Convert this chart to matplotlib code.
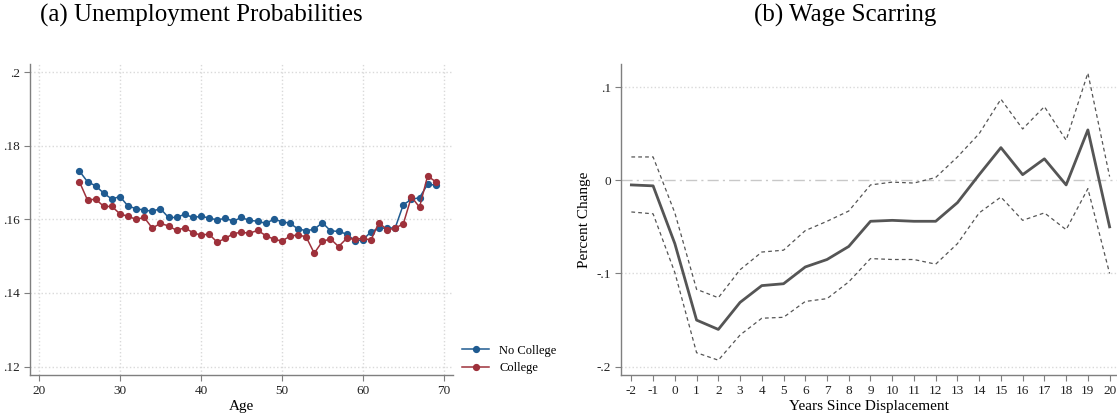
import numpy as np
import matplotlib
matplotlib.use("Agg")
import matplotlib.pyplot as plt

plt.rcParams['font.family'] = ['Liberation Serif', 'DejaVu Serif']
plt.rcParams['axes.unicode_minus'] = False

# unemployment probability by age
ages = np.arange(25, 70)
no_college = [0.1731, 0.1702, 0.1691, 0.1671, 0.1655, 0.1662, 0.1636, 0.1629, 0.1625, 0.1622,
              0.1629, 0.1605, 0.1605, 0.1614, 0.1605, 0.1608, 0.1604, 0.1598, 0.1603, 0.1595,
              0.1605, 0.1597, 0.1595, 0.1589, 0.1600, 0.1594, 0.1589, 0.1574, 0.1569, 0.1573,
              0.1591, 0.1569, 0.1567, 0.1560, 0.1542, 0.1544, 0.1566, 0.1576, 0.1576, 0.1577,
              0.1640, 0.1654, 0.1659, 0.1695, 0.1693]
college = [0.1702, 0.1652, 0.1655, 0.1635, 0.1635, 0.1615, 0.1608, 0.1600, 0.1605, 0.1576,
           0.1589, 0.1582, 0.1570, 0.1577, 0.1564, 0.1557, 0.1560, 0.1538, 0.1548, 0.1561,
           0.1565, 0.1562, 0.1570, 0.1556, 0.1546, 0.1541, 0.1554, 0.1558, 0.1552, 0.1508,
           0.1540, 0.1547, 0.1526, 0.1548, 0.1546, 0.1548, 0.1544, 0.1591, 0.1571, 0.1576,
           0.1588, 0.1661, 0.1633, 0.1718, 0.1702]
age_ticks = [20, 30, 40, 50, 60, 70]
prob_ticks = [0.12, 0.14, 0.16, 0.18, 0.20]
prob_labels = ['.12', '.14', '.16', '.18', '.2']

# wage scarring estimates with 95% bands
years = np.arange(-2, 21)
wage = [-0.005, -0.006, -0.068, -0.150, -0.160, -0.131, -0.113, -0.111, -0.093, -0.085,
        -0.071, -0.044, -0.043, -0.044, -0.044, -0.024, 0.006, 0.035, 0.006, 0.023,
        -0.005, 0.054, -0.050]
wage_hi = [0.025, 0.025, -0.035, -0.117, -0.126, -0.096, -0.077, -0.075, -0.054, -0.044,
           -0.033, -0.005, -0.002, -0.003, 0.003, 0.025, 0.050, 0.087, 0.055, 0.079,
           0.043, 0.115, 0.004]
wage_lo = [-0.034, -0.036, -0.099, -0.185, -0.193, -0.166, -0.148, -0.147, -0.130, -0.127,
           -0.109, -0.084, -0.085, -0.085, -0.090, -0.068, -0.035, -0.018, -0.043, -0.035,
           -0.053, -0.009, -0.100]
pct_ticks = [-0.2, -0.1, 0.0, 0.1]
pct_labels = ['-.2', '-.1', '0', '.1']

blue = '#1f5b91'
red = '#9e313b'
axcol = '#7f7f7f'
gridcol = '#d9d9d9'

fig = plt.figure(figsize=(11.17, 4.17), dpi=100)
ax1 = fig.add_axes([0.0269, 0.1007, 0.3784, 0.7458])
ax2 = fig.add_axes([0.5557, 0.1007, 0.4443, 0.7458])

for ax in (ax1, ax2):
    for s in ('top', 'right'):
        ax.spines[s].set_visible(False)
    for s in ('left', 'bottom'):
        ax.spines[s].set_color(axcol)
        ax.spines[s].set_linewidth(1.0)
    ax.tick_params(direction='out', color=axcol, length=4, width=0.8, labelsize=9.5,
                   labelcolor='#222222', pad=3)

# (a)
ax1.plot(ages, no_college, color=blue, lw=1.1, marker='o', ms=4.2, label='No College', zorder=3)
ax1.plot(ages, college, color=red, lw=1.1, marker='o', ms=4.2, label='College', zorder=3)
ax1.set_xlim(18.9, 71.1)
ax1.set_ylim(0.1177, 0.2022)
ax1.set_xticks(age_ticks)
ax1.set_yticks(prob_ticks)
ax1.set_yticklabels(prob_labels)
ax1.grid(True, color=gridcol, ls=':', lw=1.0)
ax1.set_axisbelow(True)
ax1.set_xlabel('Age', fontsize=11, labelpad=2)
fig.text(0.18, 0.962, '(a) Unemployment Probabilities', fontsize=18, ha='center', va='center')
ax1.legend(loc='center left', bbox_to_anchor=(1.01, 0.05), frameon=False, fontsize=9,
           handlelength=2.2, borderaxespad=0, labelspacing=0.45)

# (b)
ax2.plot(years, wage, color='#555555', lw=2.0, zorder=3)
ax2.plot(years, wage_hi, color='#555555', lw=0.9, ls=(0, (3, 2.5)), zorder=3)
ax2.plot(years, wage_lo, color='#555555', lw=0.9, ls=(0, (3, 2.5)), zorder=3)
ax2.axhline(0, color='#c8c8c8', lw=1.0, ls=(0, (8, 3, 1.5, 3)), zorder=1)
ax2.set_xlim(-2.49, 20.34)
ax2.set_ylim(-0.2089, 0.1247)
ax2.set_xticks(years)
ax2.set_yticks(pct_ticks)
ax2.set_yticklabels(pct_labels)
for t in (-0.2, -0.1, 0.1):
    ax2.axhline(t, color=gridcol, ls=':', lw=1.0, zorder=0)
ax2.set_xlabel('Years Since Displacement', fontsize=11, labelpad=2)
ax2.set_ylabel('Percent Change', fontsize=11, labelpad=4)
fig.text(0.757, 0.962, '(b) Wage Scarring', fontsize=18, ha='center', va='center')

fig.savefig('out.png', dpi=100)
